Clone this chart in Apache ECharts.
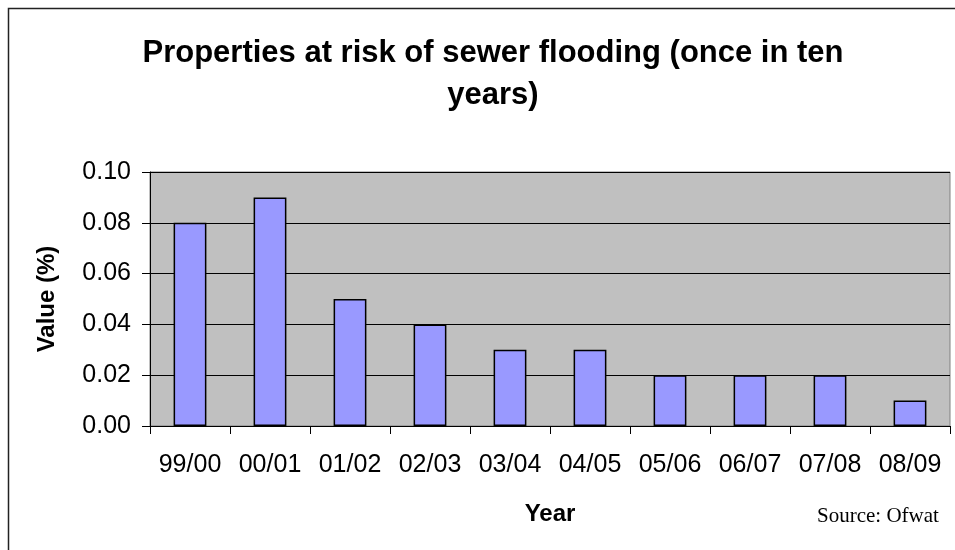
<!DOCTYPE html>
<html><head><meta charset="utf-8">
<script src="https://cdn.jsdelivr.net/npm/echarts@6/dist/echarts.min.js"></script>
<style>html,body{margin:0;padding:0;background:#fff}#c{width:955px;height:550px}</style>
</head><body><div id="c"></div>
<script>
const categories = ['99/00','00/01','01/02','02/03','03/04','04/05','05/06','06/07','07/08','08/09'];
const values = [0.08, 0.09, 0.05, 0.04, 0.03, 0.03, 0.02, 0.02, 0.02, 0.01];
const yTicks = [0, 0.02, 0.04, 0.06, 0.08, 0.10];

const chart = echarts.init(document.getElementById('c'), null, {renderer:'canvas'});
const G = {left:150, right:5, top:172, bottom:124};
chart.setOption({
  animation:false,
  backgroundColor:'#ffffff',
  title:{
    text:'Properties at risk of sewer flooding (once in ten\nyears)',
    left:488, textAlign:'center', top:27,
    textStyle:{fontFamily:'Liberation Sans, Arial', fontWeight:'bold', fontSize:31, color:'#000', lineHeight:42}
  },
  grid:{left:G.left, right:G.right, top:G.top, bottom:G.bottom, show:true, backgroundColor:'#C0C0C0', borderColor:'#808080', borderWidth:1},
  xAxis:{
    type:'category', data:categories,
    name:'Year', nameLocation:'middle', nameGap:76,
    nameTextStyle:{fontFamily:'Liberation Sans, Arial', fontWeight:'bold', fontSize:24, color:'#000'},
    axisLine:{lineStyle:{color:'#000', width:1}},
    axisTick:{show:true, interval:0, length:8, lineStyle:{color:'#000'}, alignWithLabel:false},
    axisLabel:{interval:0, hideOverlap:false, fontFamily:'Liberation Sans, Arial', fontSize:25, color:'#000', margin:27},
    splitLine:{show:false}
  },
  yAxis:{
    type:'value', min:0, max:0.1, interval:0.02,
    name:'Value (%)', nameLocation:'middle', nameGap:91, nameRotate:90,
    nameTextStyle:{fontFamily:'Liberation Sans, Arial', fontWeight:'bold', fontSize:24, color:'#000'},
    axisLine:{show:true, lineStyle:{color:'#000', width:1}},
    axisTick:{show:true, length:8, inside:false, lineStyle:{color:'#000'}},
    axisLabel:{fontFamily:'Liberation Sans, Arial', fontSize:25, color:'#000', margin:19,
      formatter:v=>{const t=yTicks.find(x=>Math.abs(x-v)<1e-9); return (t!==undefined?t:v).toFixed(2);}},
    splitLine:{show:true, lineStyle:{color:'#000', width:1}}
  },
  series:[{
    type:'bar', data:values, barCategoryGap:'59%',
    itemStyle:{color:'#9999FF', borderColor:'#000', borderWidth:1.5}
  }],
  graphic:[
    {type:'rect', shape:{x:8.5, y:8.5, width:2000, height:2000}, style:{fill:'none', stroke:'#222', lineWidth:1.5}, silent:true, z:-1},
    {type:'text', left:817, top:506, style:{text:'Source: Ofwat', font:'21px "Liberation Serif", "Times New Roman", serif', fill:'#000'}}
  ]
});
</script></body></html>
